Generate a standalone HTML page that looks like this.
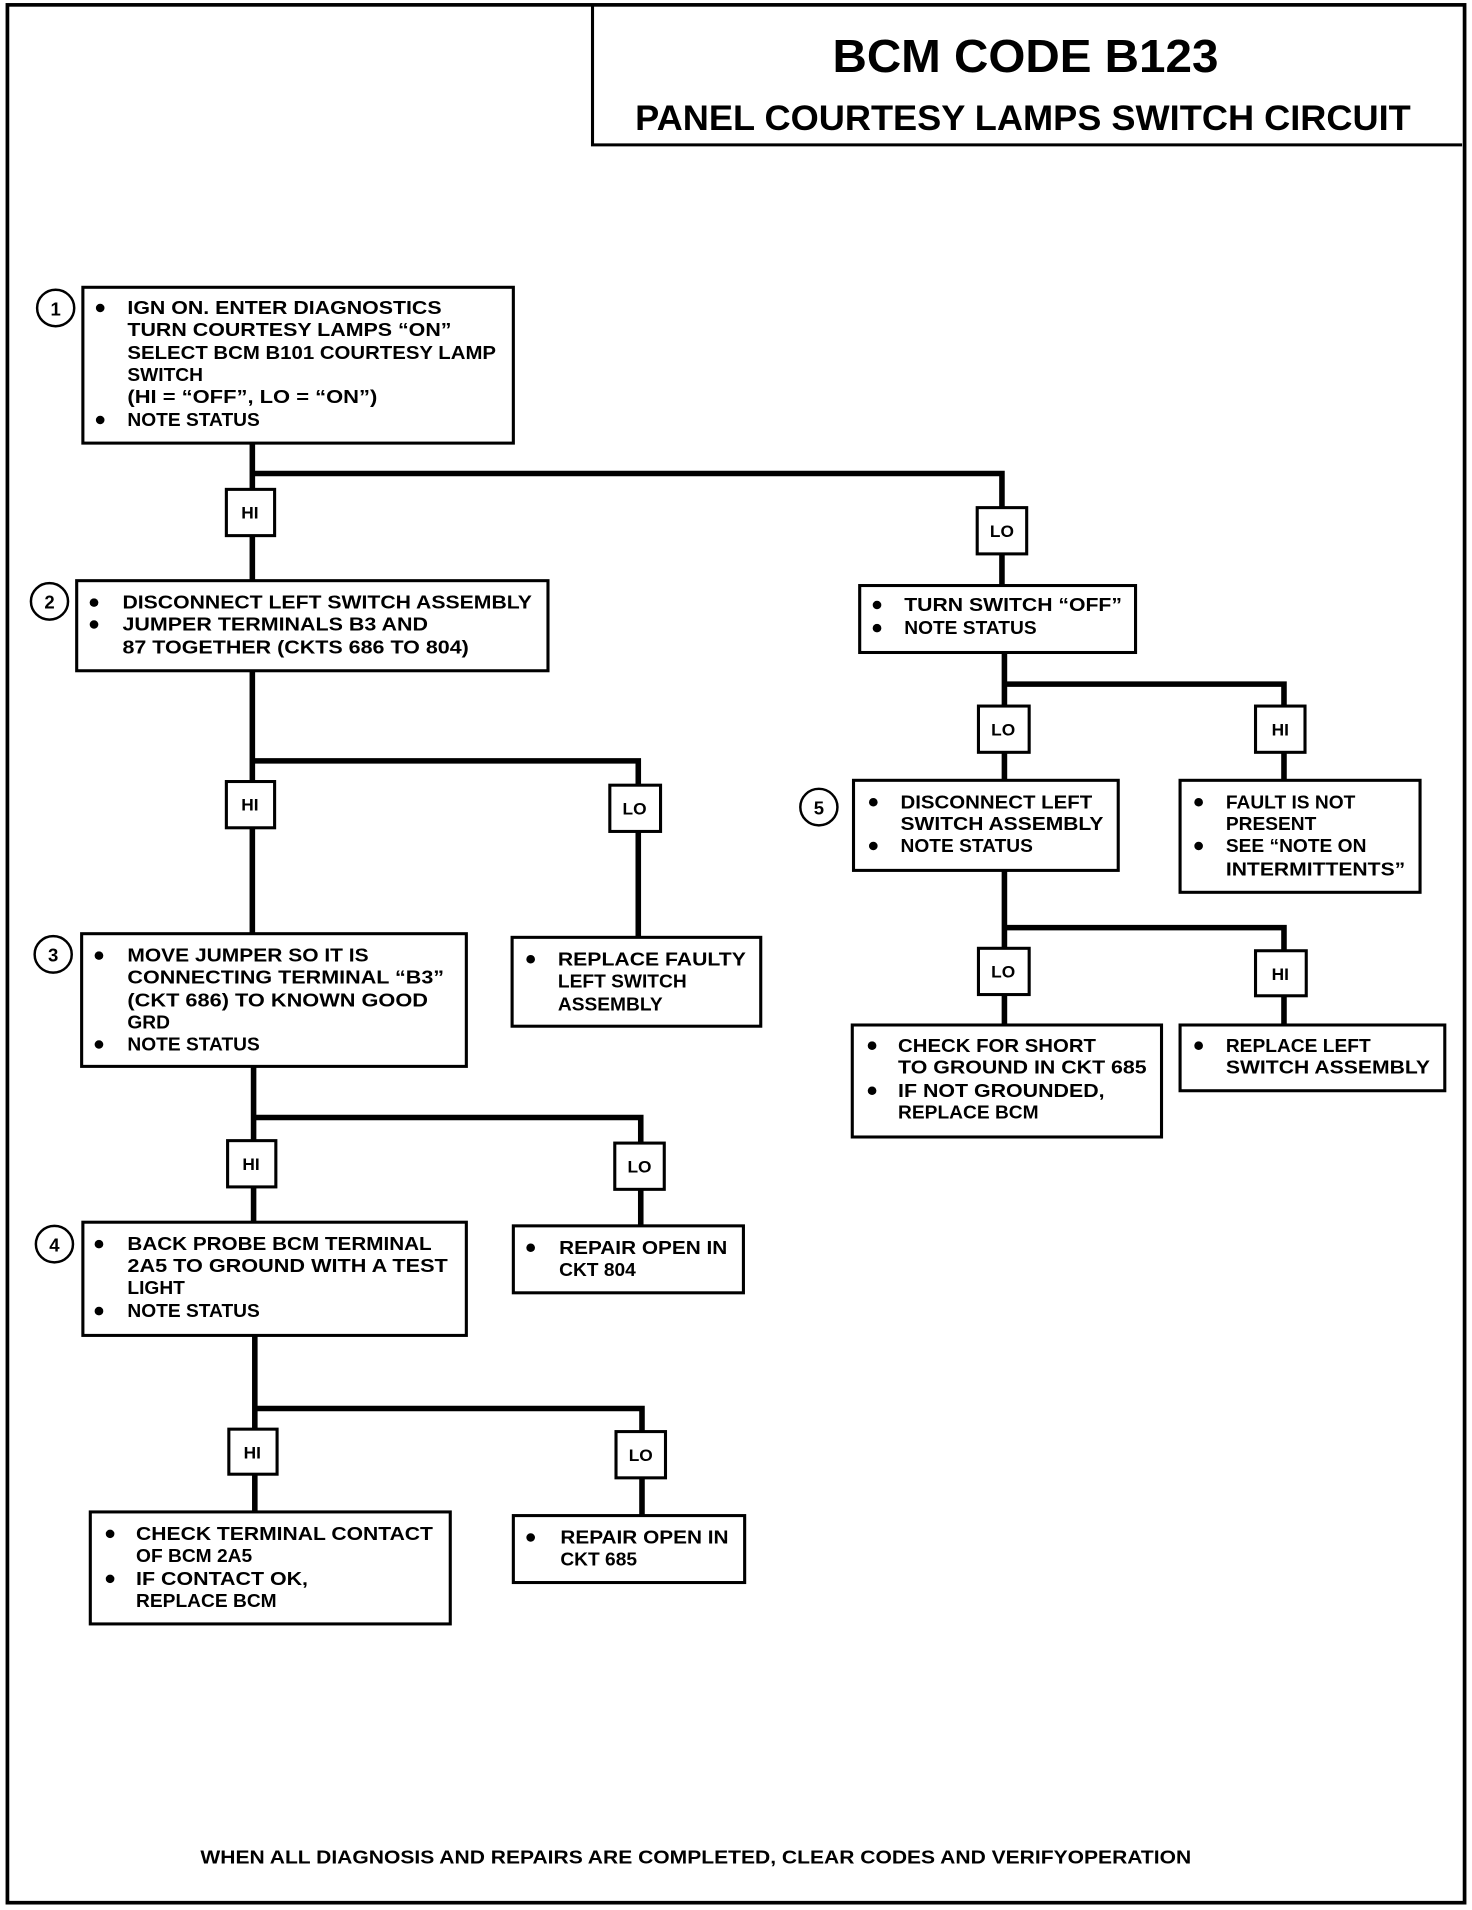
<!DOCTYPE html>
<html><head><meta charset="utf-8"><style>
html,body{margin:0;padding:0;background:#fff;}
svg{display:block;}
text{font-family:"Liberation Sans",sans-serif;font-weight:bold;fill:#000;}
.t{font-size:15.5px;}
.lb{font-size:14px;}
.c{font-size:15px;}
</style></head><body>
<svg width="1472" height="1910" viewBox="0 0 1190 1569" preserveAspectRatio="none" xmlns="http://www.w3.org/2000/svg">
<g fill="none" stroke="#000">
<rect x="6" y="4" width="1178" height="1559" stroke-width="3"/>
<polyline points="479,5 479,119 1182,119" stroke-width="2.5"/>
</g>
<text x="829" y="59" text-anchor="middle" font-size="38" textLength="312" lengthAdjust="spacingAndGlyphs">BCM CODE B123</text>
<text x="827" y="107" text-anchor="middle" font-size="29" textLength="627" lengthAdjust="spacingAndGlyphs">PANEL COURTESY LAMPS SWITCH CIRCUIT</text>

<!-- connectors -->
<g fill="none" stroke="#000" stroke-width="4.5">
<polyline points="204,364 204,477"/>
<polyline points="204,389 810,389 810,481"/>
<polyline points="812,536 812,641"/>
<polyline points="812,562 1038,562 1038,641"/>
<polyline points="812,715 812,842"/>
<polyline points="812,762 1038,762 1038,842"/>
<polyline points="204,551 204,767"/>
<polyline points="204,625 516,625 516,770"/>
<polyline points="205,876 205,1004"/>
<polyline points="205,918 518,918 518,1007"/>
<polyline points="206,1097 206,1242"/>
<polyline points="206,1157 519,1157 519,1245"/>
</g>

<!-- boxes -->
<g fill="#fff" stroke="#000" stroke-width="2.5">
<rect x="67" y="236" width="348" height="128"/>
<rect x="62" y="477" width="381" height="74"/>
<rect x="695" y="481" width="223" height="55"/>
<rect x="690" y="641" width="214" height="74"/>
<rect x="954" y="641" width="194" height="92"/>
<rect x="689" y="842" width="250" height="92"/>
<rect x="954" y="842" width="214" height="54"/>
<rect x="414" y="770" width="201" height="73"/>
<rect x="66" y="767" width="311" height="109"/>
<rect x="67" y="1004" width="310" height="93"/>
<rect x="415" y="1007" width="186" height="55"/>
<rect x="73" y="1242" width="291" height="92"/>
<rect x="415" y="1245" width="187" height="55"/>
<!-- HI/LO boxes -->
<rect x="183" y="402" width="39" height="38"/>
<rect x="790" y="417" width="40" height="38"/>
<rect x="791" y="580" width="41" height="38"/>
<rect x="1015" y="580" width="40" height="38"/>
<rect x="791" y="779" width="41" height="38"/>
<rect x="1015" y="781" width="41" height="37"/>
<rect x="183" y="642" width="39" height="38"/>
<rect x="493" y="645" width="41" height="38"/>
<rect x="184" y="937" width="39" height="38"/>
<rect x="497" y="939" width="40" height="38"/>
<rect x="185" y="1174" width="39" height="37"/>
<rect x="498" y="1176" width="40" height="38"/>
</g>
<g class="lb" text-anchor="middle">
<text x="202" y="426">HI</text>
<text x="810" y="441">LO</text>
<text x="811" y="604">LO</text>
<text x="1035" y="604">HI</text>
<text x="811" y="803">LO</text>
<text x="1035" y="805">HI</text>
<text x="202" y="666">HI</text>
<text x="513" y="669">LO</text>
<text x="203" y="961">HI</text>
<text x="517" y="963">LO</text>
<text x="204" y="1198">HI</text>
<text x="518" y="1200">LO</text>
</g>

<!-- circles -->
<g fill="#fff" stroke="#000" stroke-width="2">
<circle cx="45" cy="253" r="15"/>
<circle cx="40" cy="494" r="15"/>
<circle cx="662" cy="663" r="15"/>
<circle cx="43" cy="784" r="15"/>
<circle cx="44" cy="1022" r="15"/>
</g>
<g class="c" text-anchor="middle">
<text x="45" y="259">1</text>
<text x="40" y="500">2</text>
<text x="662" y="669">5</text>
<text x="43" y="790">3</text>
<text x="44" y="1028">4</text>
</g>

<!-- bullets -->
<g fill="#000">
<circle cx="81" cy="253" r="3.5"/><circle cx="81" cy="345" r="3.5"/>
<circle cx="76" cy="495" r="3.5"/><circle cx="76" cy="513" r="3.5"/>
<circle cx="709" cy="497" r="3.5"/><circle cx="709" cy="516" r="3.5"/>
<circle cx="706" cy="659" r="3.5"/><circle cx="706" cy="695" r="3.5"/>
<circle cx="969" cy="659" r="3.5"/><circle cx="969" cy="695" r="3.5"/>
<circle cx="705" cy="859" r="3.5"/><circle cx="705" cy="896" r="3.5"/>
<circle cx="969" cy="859" r="3.5"/>
<circle cx="429" cy="788" r="3.5"/>
<circle cx="80" cy="785" r="3.5"/><circle cx="80" cy="858" r="3.5"/>
<circle cx="80" cy="1022" r="3.5"/><circle cx="80" cy="1077" r="3.5"/>
<circle cx="429" cy="1025" r="3.5"/>
<circle cx="89" cy="1260" r="3.5"/><circle cx="89" cy="1297" r="3.5"/>
<circle cx="429" cy="1263" r="3.5"/>
</g>

<g class="t">
<text x="103" y="258" textLength="254" lengthAdjust="spacingAndGlyphs">IGN ON.  ENTER DIAGNOSTICS</text>
<text x="103" y="276" textLength="262" lengthAdjust="spacingAndGlyphs">TURN COURTESY LAMPS “ON”</text>
<text x="103" y="295" textLength="298" lengthAdjust="spacingAndGlyphs">SELECT BCM B101 COURTESY LAMP</text>
<text x="103" y="313">SWITCH</text>
<text x="103" y="331" textLength="202" lengthAdjust="spacingAndGlyphs">(HI = “OFF”, LO = “ON”)</text>
<text x="103" y="350">NOTE STATUS</text>

<text x="99" y="500" textLength="331" lengthAdjust="spacingAndGlyphs">DISCONNECT LEFT SWITCH  ASSEMBLY</text>
<text x="99" y="518" textLength="247" lengthAdjust="spacingAndGlyphs">JUMPER TERMINALS B3  AND</text>
<text x="99" y="537" textLength="280" lengthAdjust="spacingAndGlyphs">87 TOGETHER (CKTS 686 TO 804)</text>

<text x="731" y="502" textLength="176" lengthAdjust="spacingAndGlyphs">TURN SWITCH “OFF”</text>
<text x="731" y="521">NOTE STATUS</text>

<text x="728" y="664" textLength="155" lengthAdjust="spacingAndGlyphs">DISCONNECT LEFT</text>
<text x="728" y="682" textLength="164" lengthAdjust="spacingAndGlyphs">SWITCH ASSEMBLY</text>
<text x="728" y="700">NOTE STATUS</text>

<text x="991" y="664">FAULT IS NOT</text>
<text x="991" y="682">PRESENT</text>
<text x="991" y="700">SEE “NOTE ON</text>
<text x="991" y="719" textLength="145" lengthAdjust="spacingAndGlyphs">INTERMITTENTS”</text>

<text x="726" y="864" textLength="160" lengthAdjust="spacingAndGlyphs">CHECK FOR SHORT</text>
<text x="726" y="882" textLength="201" lengthAdjust="spacingAndGlyphs">TO GROUND IN CKT 685</text>
<text x="726" y="901" textLength="167" lengthAdjust="spacingAndGlyphs">IF NOT GROUNDED,</text>
<text x="726" y="919">REPLACE BCM</text>

<text x="991" y="864">REPLACE LEFT</text>
<text x="991" y="882" textLength="165" lengthAdjust="spacingAndGlyphs">SWITCH ASSEMBLY</text>

<text x="451" y="793" textLength="152" lengthAdjust="spacingAndGlyphs">REPLACE  FAULTY</text>
<text x="451" y="811">LEFT SWITCH</text>
<text x="451" y="830">ASSEMBLY</text>

<text x="103" y="790" textLength="195" lengthAdjust="spacingAndGlyphs">MOVE JUMPER SO IT IS</text>
<text x="103" y="808" textLength="256" lengthAdjust="spacingAndGlyphs">CONNECTING TERMINAL “B3”</text>
<text x="103" y="827" textLength="243" lengthAdjust="spacingAndGlyphs">(CKT 686) TO KNOWN GOOD</text>
<text x="103" y="845">GRD</text>
<text x="103" y="863">NOTE STATUS</text>

<text x="103" y="1027" textLength="246" lengthAdjust="spacingAndGlyphs">BACK PROBE BCM TERMINAL</text>
<text x="103" y="1045" textLength="259" lengthAdjust="spacingAndGlyphs">2A5 TO GROUND WITH A TEST</text>
<text x="103" y="1063">LIGHT</text>
<text x="103" y="1082">NOTE STATUS</text>

<text x="452" y="1030" textLength="136" lengthAdjust="spacingAndGlyphs">REPAIR OPEN IN</text>
<text x="452" y="1048">CKT 804</text>

<text x="110" y="1265" textLength="240" lengthAdjust="spacingAndGlyphs">CHECK TERMINAL CONTACT</text>
<text x="110" y="1283">OF BCM 2A5</text>
<text x="110" y="1302" textLength="139" lengthAdjust="spacingAndGlyphs">IF CONTACT OK,</text>
<text x="110" y="1320">REPLACE BCM</text>

<text x="453" y="1268" textLength="136" lengthAdjust="spacingAndGlyphs">REPAIR OPEN IN</text>
<text x="453" y="1286">CKT 685</text>

<text x="162" y="1531" textLength="801" lengthAdjust="spacingAndGlyphs">WHEN ALL DIAGNOSIS AND REPAIRS ARE COMPLETED, CLEAR CODES AND VERIFYOPERATION</text>
</g>
</svg>
</body></html>
